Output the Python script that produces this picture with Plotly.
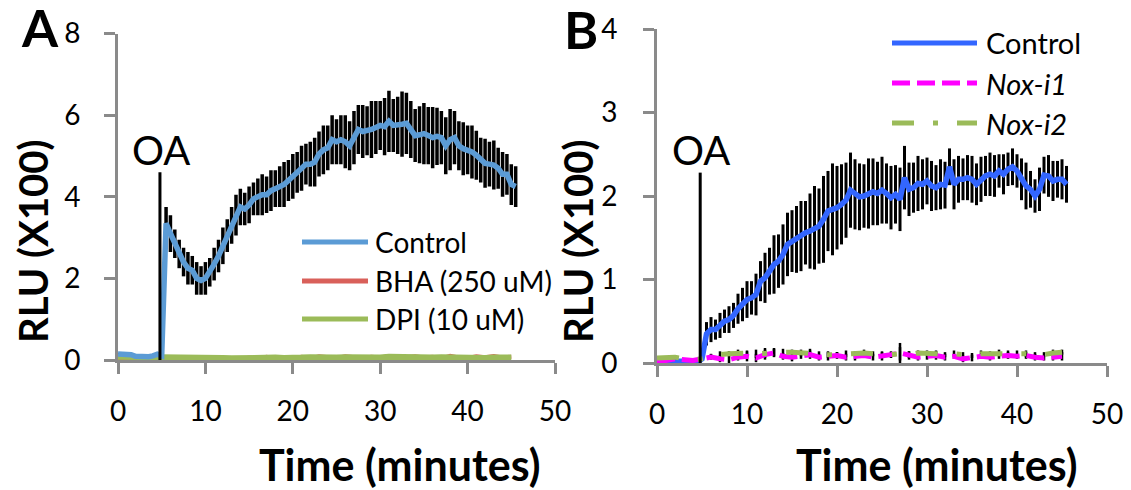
import plotly.graph_objects as go

# The page body adds an 8 px offset; the figure is sized so that reference
# pixel (x, y) maps to figure pixel (x - 8, y - 8).
OFF = 8
W, H = 1131 - OFF, 490 - OFF

# ---------------- data ----------------
times = [0, 0.5, 1, 1.5, 2, 2.5, 3, 3.5, 4, 4.5, 5, 5.5, 6, 6.5, 7, 7.5, 8, 8.5, 9, 9.5,
         10, 10.5, 11, 11.5, 12, 12.5, 13, 13.5, 14, 14.5, 15, 15.5, 16, 16.5, 17, 17.5, 18, 18.5, 19, 19.5,
         20, 20.5, 21, 21.5, 22, 22.5, 23, 23.5, 24, 24.5, 25, 25.5, 26, 26.5, 27, 27.5, 28, 28.5, 29, 29.5,
         30, 30.5, 31, 31.5, 32, 32.5, 33, 33.5, 34, 34.5, 35, 35.5, 36, 36.5, 37, 37.5, 38, 38.5, 39, 39.5,
         40, 40.5, 41, 41.5, 42, 42.5, 43, 43.5, 44, 44.5, 45, 45.5]

times_coarse = [0, 1, 2, 3, 4, 5, 6, 7, 8, 9, 10, 11, 12, 13, 14, 15, 16, 17, 18, 19, 20, 21, 22,
                23, 24, 25, 26, 27, 28, 29, 30, 31, 32, 33, 34, 35, 36, 37, 38, 39, 40, 41, 42, 43, 44, 45]

# Panel A (RLU x100)
a_control = [0.15, 0.15, 0.15, 0.13, 0.09, 0.08, 0.08, 0.08, 0.10, 0.14,
             0.10, 3.35, 3.10, 2.85, 2.60, 2.40, 2.25, 2.20, 2.00, 1.95,
             2.00, 2.15, 2.35, 2.55, 2.80, 3.05, 3.30, 3.55, 3.75, 3.70,
             3.80, 3.95, 4.00, 4.05, 4.05, 4.15, 4.20, 4.25, 4.30, 4.40,
             4.50, 4.60, 4.70, 4.80, 4.80, 4.85, 5.05, 5.15, 5.20, 5.40,
             5.35, 5.40, 5.35, 5.25, 5.45, 5.65, 5.60, 5.62, 5.65, 5.70,
             5.75, 5.72, 5.85, 5.75, 5.75, 5.78, 5.80, 5.65, 5.50, 5.52,
             5.55, 5.50, 5.45, 5.48, 5.45, 5.25, 5.40, 5.45, 5.25, 5.18,
             5.15, 5.10, 5.02, 4.90, 4.82, 4.80, 4.78, 4.70, 4.55, 4.55,
             4.30, 4.25]
a_control_err = [0.02, 0.02, 0.02, 0.02, 0.02, 0.02, 0.02, 0.02, 0.02, 0.02,
                 0.02, 0.40, 0.45, 0.35, 0.35, 0.35, 0.40, 0.35, 0.40, 0.35,
                 0.40, 0.35, 0.40, 0.40, 0.45, 0.40, 0.45, 0.50, 0.45, 0.40,
                 0.45, 0.40, 0.45, 0.50, 0.45, 0.50, 0.45, 0.50, 0.55, 0.50,
                 0.55, 0.50, 0.55, 0.50, 0.55, 0.60, 0.55, 0.60, 0.55, 0.60,
                 0.55, 0.60, 0.65, 0.60, 0.65, 0.60, 0.65, 0.60, 0.70, 0.65,
                 0.60, 0.70, 0.75, 0.65, 0.70, 0.80, 0.75, 0.70, 0.65, 0.70,
                 0.75, 0.70, 0.75, 0.70, 0.65, 0.70, 0.75, 0.65, 0.60, 0.65,
                 0.60, 0.65, 0.60, 0.55, 0.60, 0.55, 0.60, 0.50, 0.55, 0.50,
                 0.50, 0.50]
a_bha = [0.02, 0.01, 0.02, 0.02, 0.01, 0.03, 0.02, 0.02, 0.05, 0.03, 0.02, 0.04, 0.02, 0.03, 0.02,
         0.06, 0.04, 0.08, 0.03, 0.07, 0.05, 0.08, 0.04, 0.09, 0.06, 0.05, 0.09, 0.07, 0.05, 0.08,
         0.06, 0.10, 0.05, 0.07, 0.09, 0.06, 0.08, 0.04, 0.10, 0.06, 0.05, 0.09, 0.07, 0.10, 0.06, 0.08]
a_dpi = [0.08, 0.08, 0.07, 0.08, 0.07, 0.06, 0.07, 0.06, 0.08, 0.06, 0.05, 0.06, 0.05, 0.04, 0.05,
         0.04, 0.06, 0.07, 0.06, 0.05, 0.07, 0.06, 0.07, 0.06, 0.08, 0.06, 0.07, 0.06, 0.08, 0.07,
         0.06, 0.08, 0.07, 0.06, 0.08, 0.07, 0.06, 0.07, 0.06, 0.05, 0.05, 0.06, 0.05, 0.06, 0.07, 0.06]

# Panel B (RLU x100)
b_control = [0.02, 0.02, 0.02, 0.02, 0.03, 0.03, 0.02, 0.02, 0.02, 0.01,
             0.05, 0.35, 0.40, 0.40, 0.45, 0.50, 0.52, 0.57, 0.65, 0.70,
             0.76, 0.78, 0.82, 0.98, 1.02, 1.10, 1.18, 1.22, 1.30, 1.42,
             1.46, 1.48, 1.52, 1.56, 1.58, 1.62, 1.64, 1.72, 1.82, 1.84,
             1.86, 1.90, 1.95, 2.07, 2.02, 1.99, 2.00, 2.03, 2.05, 2.03,
             2.07, 2.03, 1.98, 2.02, 1.96, 2.22, 2.08, 2.10, 2.15, 2.14,
             2.18, 2.12, 2.10, 2.14, 2.13, 2.35, 2.14, 2.20, 2.20, 2.22,
             2.20, 2.14, 2.20, 2.24, 2.26, 2.24, 2.30, 2.26, 2.32, 2.35,
             2.30, 2.20, 2.12, 2.08, 2.00, 2.08, 2.25, 2.24, 2.18, 2.20,
             2.20, 2.14]
b_control_err = [0.01, 0.01, 0.01, 0.01, 0.01, 0.01, 0.01, 0.01, 0.01, 0.01,
                 0.02, 0.14, 0.15, 0.12, 0.15, 0.14, 0.16, 0.15, 0.18, 0.20,
                 0.22, 0.20, 0.25, 0.24, 0.30, 0.28, 0.35, 0.32, 0.36, 0.38,
                 0.37, 0.40, 0.42, 0.38, 0.45, 0.50, 0.45, 0.52, 0.48, 0.55,
                 0.50, 0.48, 0.45, 0.45, 0.42, 0.40, 0.38, 0.42, 0.40, 0.38,
                 0.40, 0.36, 0.38, 0.35, 0.38, 0.38, 0.32, 0.30, 0.33, 0.30,
                 0.28, 0.30, 0.27, 0.30, 0.28, 0.22, 0.30, 0.28, 0.25, 0.27,
                 0.28, 0.25, 0.27, 0.24, 0.26, 0.25, 0.20, 0.24, 0.20, 0.22,
                 0.20, 0.25, 0.28, 0.22, 0.20, 0.26, 0.22, 0.25, 0.24, 0.22,
                 0.24, 0.22]
b_nox1 = [0.03, 0.03, 0.05, 0.04, 0.03, 0.05, 0.07, 0.05, 0.04, 0.07, 0.08, 0.06, 0.10, 0.12, 0.08,
          0.07, 0.09, 0.10, 0.07, 0.08, 0.09, 0.07, 0.08, 0.09, 0.07, 0.08, 0.10, 0.12, 0.09, 0.07,
          0.08, 0.09, 0.07, 0.08, 0.05, 0.06, 0.08, 0.07, 0.08, 0.09, 0.08, 0.09, 0.07, 0.06, 0.07, 0.08]
b_nox1_err = [0.01, 0.01, 0.01, 0.01, 0.01, 0.02, 0.03, 0.04, 0.05, 0.04, 0.06, 0.05, 0.06, 0.05, 0.04,
              0.05, 0.04, 0.05, 0.04, 0.05, 0.04, 0.04, 0.05, 0.03, 0.04, 0.05, 0.04, 0.12, 0.05, 0.04,
              0.04, 0.05, 0.04, 0.03, 0.04, 0.04, 0.03, 0.04, 0.03, 0.04, 0.03, 0.04, 0.04, 0.03, 0.04, 0.05]
b_nox2 = [0.06, 0.07, 0.07, 0.05, 0.04, 0.05, 0.08, 0.10, 0.11, 0.12, 0.12, 0.11, 0.12, 0.13, 0.13,
          0.13, 0.12, 0.12, 0.11, 0.10, 0.10, 0.11, 0.11, 0.12, 0.11, 0.10, 0.10, 0.11, 0.10, 0.12,
          0.12, 0.11, 0.10, 0.11, 0.10, 0.09, 0.11, 0.11, 0.12, 0.12, 0.12, 0.11, 0.10, 0.10, 0.12, 0.13]
b_nox2_err = [0.01, 0.01, 0.01, 0.01, 0.01, 0.02, 0.03, 0.04, 0.03, 0.04, 0.03, 0.05, 0.06, 0.05, 0.04,
              0.03, 0.04, 0.05, 0.03, 0.04, 0.03, 0.04, 0.03, 0.04, 0.03, 0.04, 0.03, 0.08, 0.04, 0.03,
              0.03, 0.04, 0.03, 0.04, 0.03, 0.03, 0.04, 0.03, 0.04, 0.03, 0.03, 0.04, 0.03, 0.03, 0.04, 0.03]

oa_time = 4.8
oa_top_a = 4.6
oa_top_b = 2.28

x_ticks = [0, 10, 20, 30, 40, 50]
a_y_ticks = [0, 2, 4, 6, 8]
b_y_ticks = [0, 1, 2, 3, 4]

legend_a = ["Control", "BHA (250 uM)", "DPI (10 uM)"]
legend_b = ["Control", "<i>Nox-i1</i>", "<i>Nox-i2</i>"]

# ---------------- style ----------------
FONT = "Lato, 'Open Sans', sans-serif"
AXIS_GREY = "#8a8a8a"
A_BLUE, A_RED, A_GREEN = "#5b9bd5", "#d9605a", "#9bbb59"
B_BLUE, B_MAG, B_GREEN = "#3366ff", "#ff00ff", "#9bbb59"
NOX1_DASH = "18px,7px"
NOX2_DASH = "22px,19px,5px,19px"
TICKFONT = dict(family=FONT, size=28, color="black")


def px(x):
    return (x - OFF) / W


def py(y):
    return 1 - (y - OFF) / H


fig = go.Figure()

# ---- Panel A ----
fig.add_trace(go.Scatter(x=times, y=a_control, mode="markers", xaxis="x", yaxis="y",
                         marker=dict(size=1, color="rgba(0,0,0,0)"),
                         error_y=dict(type="data", array=a_control_err, color="black",
                                      thickness=3.5, width=0),
                         showlegend=False, hoverinfo="skip"))
fig.add_trace(go.Scatter(x=times_coarse, y=a_bha, mode="lines", xaxis="x", yaxis="y",
                         line=dict(color=A_RED, width=4), showlegend=False))
fig.add_trace(go.Scatter(x=times_coarse, y=a_dpi, mode="lines", xaxis="x", yaxis="y",
                         line=dict(color=A_GREEN, width=6), showlegend=False))
fig.add_trace(go.Scatter(x=times, y=a_control, mode="lines", xaxis="x", yaxis="y",
                         line=dict(color=A_BLUE, width=5.5), showlegend=False))
# invisible companion so the label-only axis (y3) is rendered
fig.add_trace(go.Scatter(x=times_coarse, y=a_dpi, mode="lines", xaxis="x", yaxis="y3",
                         line=dict(color="rgba(0,0,0,0)", width=1), opacity=0,
                         showlegend=False, hoverinfo="skip"))

# ---- Panel B ----
fig.add_trace(go.Scatter(x=times, y=b_control, mode="markers", xaxis="x2", yaxis="y2",
                         marker=dict(size=1, color="rgba(0,0,0,0)"),
                         error_y=dict(type="data", array=b_control_err, color="black",
                                      thickness=3, width=0),
                         showlegend=False, hoverinfo="skip"))
fig.add_trace(go.Scatter(x=times_coarse, y=b_nox1, mode="markers", xaxis="x2", yaxis="y2",
                         marker=dict(size=1, color="rgba(0,0,0,0)"),
                         error_y=dict(type="data", array=b_nox1_err, color="black",
                                      thickness=2.5, width=0),
                         showlegend=False, hoverinfo="skip"))
fig.add_trace(go.Scatter(x=times_coarse, y=b_nox2, mode="markers", xaxis="x2", yaxis="y2",
                         marker=dict(size=1, color="rgba(0,0,0,0)"),
                         error_y=dict(type="data", array=b_nox2_err, color="black",
                                      thickness=2.5, width=0),
                         showlegend=False, hoverinfo="skip"))
fig.add_trace(go.Scatter(x=times, y=b_control, mode="lines", xaxis="x2", yaxis="y2",
                         line=dict(color=B_BLUE, width=5.5), showlegend=False))
fig.add_trace(go.Scatter(x=times_coarse, y=b_nox1, mode="lines", xaxis="x2", yaxis="y2",
                         line=dict(color=B_MAG, width=5, dash=NOX1_DASH), showlegend=False))
fig.add_trace(go.Scatter(x=times_coarse, y=b_nox2, mode="lines", xaxis="x2", yaxis="y2",
                         line=dict(color=B_GREEN, width=5, dash=NOX2_DASH), showlegend=False))
fig.add_trace(go.Scatter(x=times_coarse, y=b_nox2, mode="lines", xaxis="x2", yaxis="y4",
                         line=dict(color="rgba(0,0,0,0)", width=1), opacity=0,
                         showlegend=False, hoverinfo="skip"))

axis_common = dict(showgrid=False, zeroline=False, showline=True, linecolor=AXIS_GREY,
                   linewidth=2.5, ticks="outside", ticklen=11, tickwidth=2.5, automargin=False,
                   tickcolor=AXIS_GREY, tickfont=TICKFONT)

# label-only overlay axes (transparent long ticks push the labels out)
label_axis = dict(showgrid=False, zeroline=False, showline=False, ticks="outside",
                  tickwidth=1, tickcolor="rgba(0,0,0,0)", automargin=False, side="left",
                  tickfont=TICKFONT)

a_dom = [py(360), py(33.6)]
b_dom = [py(363), py(29)]

fig.update_layout(
    width=W, height=H, autosize=False,
    margin=dict(l=0, r=0, t=0, b=0, pad=0, autoexpand=False),
    paper_bgcolor="white", plot_bgcolor="white",
    showlegend=False,
    xaxis=dict(domain=[px(118), px(555)], range=[0, 50], tickvals=x_ticks,
               anchor="y", ticklabelstandoff=14, **axis_common),
    yaxis=dict(domain=a_dom, range=[0, 8], tickvals=a_y_ticks, showticklabels=False,
               anchor="x", **axis_common),
    yaxis3=dict(domain=a_dom, range=[0, 8], tickvals=a_y_ticks, anchor="x",
                overlaying="y", ticklen=31, **label_axis),
    xaxis2=dict(domain=[px(657), px(1107)], range=[0, 50], tickvals=x_ticks,
                anchor="y2", ticklabelstandoff=14, **axis_common),
    yaxis2=dict(domain=b_dom, range=[0, 4], tickvals=b_y_ticks, showticklabels=False,
                anchor="x2", **axis_common),
    yaxis4=dict(domain=b_dom, range=[0, 4], tickvals=b_y_ticks, anchor="x2",
                overlaying="y2", ticklen=33, **label_axis),
)

shapes = []
# OA markers
shapes.append(dict(type="line", xref="x", yref="y", x0=oa_time, x1=oa_time, y0=0, y1=oa_top_a,
                   line=dict(color="black", width=3)))
shapes.append(dict(type="line", xref="x2", yref="y2", x0=oa_time, x1=oa_time, y0=0, y1=oa_top_b,
                   line=dict(color="black", width=3)))

annotations = []


def label(text, x, y, size, angle=0, xanchor="center"):
    return dict(text=text, xref="paper", yref="paper", x=px(x), y=py(y), xanchor=xanchor,
                yanchor="middle", textangle=angle, showarrow=False,
                font=dict(family=FONT, size=size, color="black"))


annotations.append(label("OA", 161, 150, 40))
annotations.append(label("OA", 701, 150, 40))

# custom legends
a_rows = [242, 281, 319]
a_cols = [A_BLUE, A_RED, A_GREEN]
for name, yy, col in zip(legend_a, a_rows, a_cols):
    shapes.append(dict(type="line", xref="paper", yref="paper", x0=px(302), x1=px(368),
                       y0=py(yy), y1=py(yy), line=dict(color=col, width=5)))
    annotations.append(label(name, 373, yy, 28, xanchor="left"))

b_rows = [43, 83, 123]
b_cols = [B_BLUE, B_MAG, B_GREEN]
b_dash = ["solid", NOX1_DASH, NOX2_DASH]
for name, yy, col, dsh in zip(legend_b, b_rows, b_cols, b_dash):
    shapes.append(dict(type="line", xref="paper", yref="paper", x0=px(892), x1=px(977),
                       y0=py(yy), y1=py(yy), line=dict(color=col, width=5, dash=dsh)))
    annotations.append(label(name, 984, yy, 29, xanchor="left"))

# axis titles
for cx in (33, 578):
    annotations.append(label("<b>RLU (X100)</b>", cx, 241, 40, angle=-90))
for cx in (400, 937):
    annotations.append(label("<b>Time (minutes)</b>", cx, 464, 43))

# panel letters
annotations.append(label("<b>A</b>", 40, 27, 52))
annotations.append(label("<b>B</b>", 581, 29, 52))

fig.update_layout(shapes=shapes, annotations=annotations)

fig.write_html("out.html")
